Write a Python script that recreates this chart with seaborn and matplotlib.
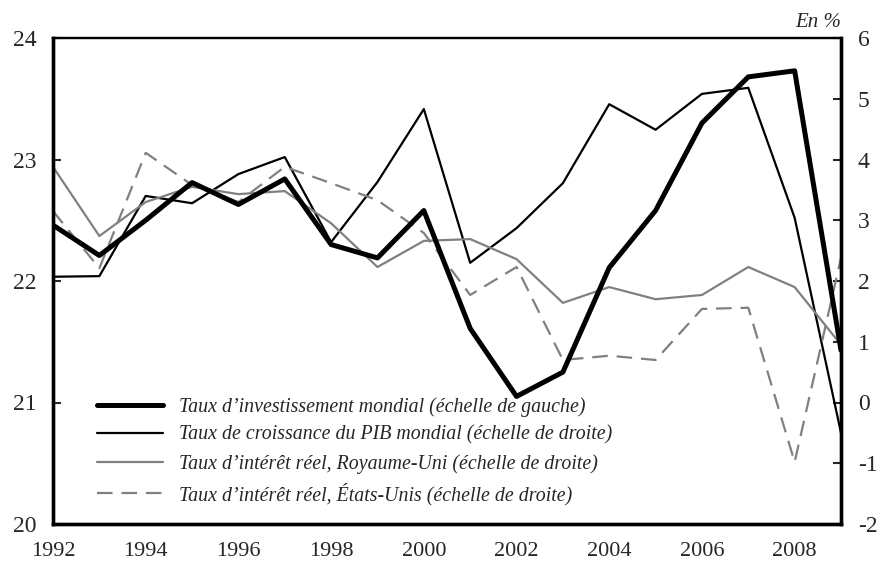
import matplotlib
matplotlib.use("Agg")
import matplotlib.pyplot as plt
import seaborn as sns
import pandas as pd
from matplotlib.ticker import MultipleLocator

years = list(range(1992, 2010))
investissement = [22.46, 22.21, 22.50, 22.81, 22.63, 22.84, 22.30, 22.19, 22.58, 21.61,
                  21.05, 21.25, 22.11, 22.58, 23.30, 23.68, 23.73, 21.43]
pib = [2.07, 2.08, 3.40, 3.28, 3.76, 4.04, 2.64, 3.63, 4.83, 2.30,
       2.87, 3.61, 4.91, 4.49, 5.08, 5.18, 3.04, -0.50]
taux_ru = [3.88, 2.74, 3.30, 3.55, 3.43, 3.48, 2.95, 2.23, 2.66, 2.69,
           2.36, 1.64, 1.90, 1.70, 1.77, 2.23, 1.90, 0.95]
taux_us = [3.15, 2.21, 4.11, 3.58, 3.30, 3.88, 3.61, 3.33, 2.79, 1.77,
           2.23, 0.70, 0.77, 0.70, 1.54, 1.56, -0.98, 2.38]

labels = [
    "Taux d\u2019investissement mondial (\u00e9chelle de gauche)",
    "Taux de croissance du PIB mondial (\u00e9chelle de droite)",
    "Taux d\u2019int\u00e9r\u00eat r\u00e9el, Royaume-Uni (\u00e9chelle de droite)",
    "Taux d\u2019int\u00e9r\u00eat r\u00e9el, \u00c9tats-Unis (\u00e9chelle de droite)",
]

df = pd.DataFrame({"annee": years, "inv": investissement, "pib": pib,
                   "ru": taux_ru, "us": taux_us})

sns.set_style("white")
plt.rcParams["font.family"] = ["Liberation Serif", "DejaVu Serif"]
plt.rcParams["axes.unicode_minus"] = False

fig = plt.figure(figsize=(8.82, 5.66), dpi=100)
ax = fig.add_axes([53/882, 1-524/566, (841-53)/882, (524-38)/566])
ax2 = ax.twinx()

gray = "#808080"
sns.lineplot(data=df, x="annee", y="pib", ax=ax2, color="black", lw=1.6, label=labels[1], legend=False)
sns.lineplot(data=df, x="annee", y="ru", ax=ax2, color=gray, lw=1.6, label=labels[2], legend=False)
sns.lineplot(data=df, x="annee", y="us", ax=ax2, color=gray, lw=1.6, label=labels[3], legend=False)
ax2.lines[-1].set_dashes([7, 4])
sns.lineplot(data=df, x="annee", y="inv", ax=ax, color="black", lw=3.6, label=labels[0], legend=False)

ax.set_zorder(ax2.get_zorder() + 1)
ax.patch.set_visible(False)

ax.set_xlim(1992, 2009)
ax.set_ylim(20, 24)
ax2.set_ylim(-2, 6)
for a in (ax, ax2):
    a.set_xlabel("")
    a.set_ylabel("")

ax.xaxis.set_major_locator(MultipleLocator(2))
ax.xaxis.set_minor_locator(MultipleLocator(1))
ax.yaxis.set_major_locator(MultipleLocator(1))
ax2.yaxis.set_major_locator(MultipleLocator(1))

ax.tick_params(axis="x", which="both", direction="in", length=6, width=1.5, labelsize=16, pad=13)
ax.tick_params(axis="y", direction="in", length=6, width=1.5, labelsize=17, pad=12)
ax2.tick_params(axis="y", direction="in", length=6, width=1.5, labelsize=17, pad=12)

for a in (ax, ax2):
    for s in ("left", "right", "bottom"):
        a.spines[s].set_linewidth(2.4)
        a.spines[s].set_color("black")
    a.spines["top"].set_linewidth(1.6)
    a.spines["top"].set_color("black")

ax.text(1.0, 1.012, "En %", transform=ax.transAxes, ha="right", va="bottom",
        fontsize=15, style="italic")

h1, l1 = ax.get_legend_handles_labels()
h2, lab2 = ax2.get_legend_handles_labels()
fig.legend(h1 + h2, l1 + lab2, loc="upper left", bbox_to_anchor=(97/882, 1-397/566),
           frameon=False, prop={"family": "Liberation Serif", "style": "italic", "size": 14.3},
           handlelength=3.3, handletextpad=0.85, labelspacing=0.45, borderpad=0, borderaxespad=0)

fig.savefig("out.png", dpi=100)
